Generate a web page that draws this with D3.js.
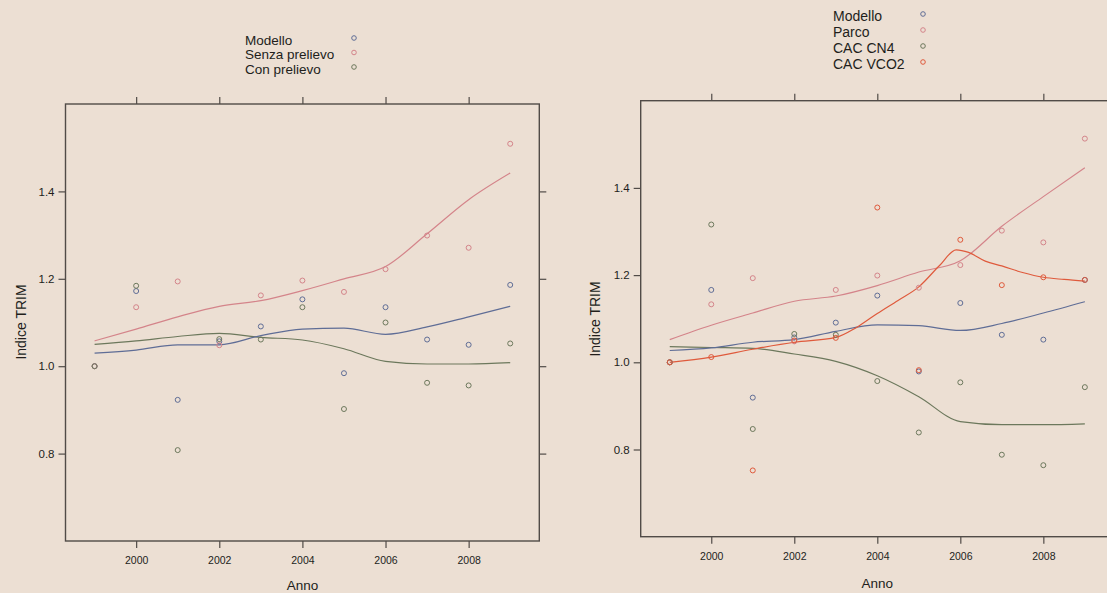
<!DOCTYPE html>
<html>
<head>
<meta charset="utf-8">
<script src="https://cdn.jsdelivr.net/npm/d3@7"></script>
<style>
  html, body { margin: 0; padding: 0; background: #ecdfd3; }
  svg { display: block; }
  text { font-family: "Liberation Sans", Arial, sans-serif; fill: #221e1b; }
</style>
</head>
<body>
<svg id="chart" width="1107" height="593"></svg>
<script>
// ---------------- DATA ----------------
const years = [1999, 2000, 2001, 2002, 2003, 2004, 2005, 2006, 2007, 2008, 2009];
const xTickValues = [2000, 2002, 2004, 2006, 2008];
const yTickValues = [0.8, 1.0, 1.2, 1.4];

// Left panel: observed indices
const modelloL      = [1.000, 1.172, 0.923, 1.057, 1.091, 1.153, 0.984, 1.135, 1.061, 1.049, 1.186];
const senzaPrelievo = [1.000, 1.135, 1.194, 1.048, 1.162, 1.196, 1.170, 1.222, 1.299, 1.271, 1.509];
const conPrelievo   = [1.000, 1.184, 0.808, 1.062, 1.061, 1.135, 0.902, 1.100, 0.962, 0.956, 1.052];
// Left panel: smooth curves (read at each year)
const modelloLSmooth = [1.030, 1.037, 1.049, 1.049, 1.070, 1.085, 1.087, 1.073, 1.090, 1.113, 1.137];
const senzaSmooth    = [1.058, 1.085, 1.113, 1.137, 1.150, 1.173, 1.200, 1.228, 1.303, 1.381, 1.442];
const conSmooth      = [1.050, 1.058, 1.068, 1.075, 1.066, 1.060, 1.040, 1.011, 1.005, 1.005, 1.008];

// Right panel: observed indices
const modelloR = [1.000, 1.166, 0.919, 1.057, 1.091, 1.153, 0.979, 1.136, 1.063, 1.052, 1.189];
const parco    = [1.000, 1.133, 1.193, 1.048, 1.166, 1.199, 1.171, 1.223, 1.302, 1.275, 1.513];
const cacCN4   = [1.000, 1.316, 0.847, 1.065, 1.063, 0.957, 0.839, 0.954, 0.788, 0.764, 0.943];
const cacVCO2  = [1.000, 1.012, 0.752, 1.050, 1.056, 1.355, 0.982, 1.281, 1.177, 1.195, 1.189];
// Right panel: smooth curves
const modelloRSmooth = [1.027, 1.033, 1.046, 1.052, 1.071, 1.086, 1.084, 1.073, 1.089, 1.113, 1.139];
const parcoSmooth    = [1.052, 1.085, 1.113, 1.140, 1.152, 1.176, 1.207, 1.233, 1.312, 1.380, 1.446];
const cn4Smooth      = [1.036, 1.034, 1.032, 1.019, 1.002, 0.969, 0.921, 0.864, 0.857, 0.857, 0.859];
const vco2SmoothYears = [1999, 2000, 2001, 2002, 2003, 2003.5, 2004, 2004.5, 2005, 2005.5, 2005.9, 2006.2, 2006.6, 2007, 2007.5, 2008, 2008.5, 2009];
const vco2Smooth      = [1.000, 1.012, 1.030, 1.046, 1.057, 1.080, 1.112, 1.142, 1.173, 1.222, 1.258, 1.252, 1.232, 1.221, 1.206, 1.195, 1.190, 1.186];

const legendLeft  = ["Modello", "Senza prelievo", "Con prelievo"];
const legendRight = ["Modello", "Parco", "CAC CN4", "CAC VCO2"];

// ---------------- STYLE ----------------
const C = {
  blue:  "#5f6d96",
  pink:  "#d4848a",
  green: "#6c785c",
  red:   "#df5a3c",
  frame: "#514b47"
};

const svg = d3.select("#chart");
svg.append("rect").attr("width", 1107).attr("height", 593).attr("fill", "#ecdfd3");

function drawPanel(cfg) {
  const x = d3.scaleLinear().domain([1998.3, 2009.7]).range([cfg.x0, cfg.x1]);
  const y = d3.scaleLinear().domain([0.6, 1.6]).range([cfg.y1, cfg.y0]);
  const g = svg.append("g");

  const tickLen = 7;
  const styleAxis = sel => {
    sel.select(".domain").remove();
    sel.selectAll(".tick line").attr("stroke", C.frame).attr("stroke-width", 1.2);
    sel.selectAll(".tick text").attr("fill", "#221e1b")
      .style("font-family", '"Liberation Sans", Arial, sans-serif');
  };
  g.append("g").attr("transform", `translate(0,${cfg.y1})`)
    .call(d3.axisBottom(x).tickValues(xTickValues).tickFormat(d3.format("d")).tickSize(tickLen).tickPadding(9))
    .call(styleAxis).selectAll("text").style("font-size", "10.5px");
  g.append("g").attr("transform", `translate(0,${cfg.y0})`)
    .call(d3.axisTop(x).tickValues(xTickValues).tickFormat("").tickSize(tickLen))
    .call(styleAxis);
  g.append("g").attr("transform", `translate(${cfg.x0},0)`)
    .call(d3.axisLeft(y).tickValues(yTickValues).tickFormat(d3.format(".1f")).tickSize(tickLen).tickPadding(4))
    .call(styleAxis).selectAll("text").style("font-size", "11.5px");
  g.append("g").attr("transform", `translate(${cfg.x1},0)`)
    .call(d3.axisRight(y).tickValues(yTickValues).tickFormat("").tickSize(tickLen))
    .call(styleAxis);

  g.append("rect")
    .attr("x", cfg.x0).attr("y", cfg.y0)
    .attr("width", cfg.x1 - cfg.x0).attr("height", cfg.y1 - cfg.y0)
    .attr("fill", "none").attr("stroke", C.frame).attr("stroke-width", 1.4);

  const line = d3.line().x(d => x(d[0])).y(d => y(d[1])).curve(d3.curveMonotoneX);
  cfg.smooths.forEach(s => {
    g.append("path")
      .datum(s.xs.map((v, i) => [v, s.ys[i]]))
      .attr("d", line)
      .attr("fill", "none")
      .attr("stroke", s.color)
      .attr("stroke-width", 1.2);
  });

  cfg.series.forEach(s => {
    g.append("g").selectAll("circle")
      .data(years.map((yr, i) => [yr, s.values[i]]))
      .join("circle")
      .attr("cx", d => x(d[0]))
      .attr("cy", d => y(d[1]))
      .attr("r", 2.5)
      .attr("fill", "none")
      .attr("stroke", s.color)
      .attr("stroke-width", 1);
  });

  g.append("text")
    .attr("x", (cfg.x0 + cfg.x1) / 2).attr("y", cfg.annoY)
    .attr("text-anchor", "middle").attr("dy", "0.35em")
    .style("font-size", "13.5px").text("Anno");
  g.append("text")
    .attr("transform", `translate(${cfg.ylabX},${cfg.ylabY}) rotate(-90)`)
    .attr("text-anchor", "middle").attr("dy", "0.35em")
    .style("font-size", "14px").text("Indice TRIM");

  const lg = g.append("g");
  cfg.legend.labels.forEach((lab, i) => {
    const cy = cfg.legend.y + i * cfg.legend.dy;
    lg.append("text").attr("x", cfg.legend.x).attr("y", cy).attr("dy", "0.35em")
      .style("font-size", cfg.legend.fs + "px").text(lab);
    lg.append("circle").attr("cx", cfg.legend.sx).attr("cy", cy - 2)
      .attr("r", 2.3).attr("fill", "none")
      .attr("stroke", cfg.legend.colors[i]).attr("stroke-width", 1);
  });
}

drawPanel({
  x0: 65.5, x1: 539.3, y0: 104, y1: 541,
  annoY: 585, ylabX: 21, ylabY: 322,
  series: [
    { values: modelloL, color: C.blue },
    { values: senzaPrelievo, color: C.pink },
    { values: conPrelievo, color: C.green }
  ],
  smooths: [
    { xs: years, ys: senzaSmooth, color: C.pink },
    { xs: years, ys: conSmooth, color: C.green },
    { xs: years, ys: modelloLSmooth, color: C.blue }
  ],
  legend: { labels: legendLeft, colors: [C.blue, C.pink, C.green],
            x: 245, y: 40, dy: 14.5, sx: 354, fs: 13.5 }
});

drawPanel({
  x0: 640.7, x1: 1113.9, y0: 100.7, y1: 536.7,
  annoY: 583, ylabX: 595, ylabY: 319,
  series: [
    { values: modelloR, color: C.blue },
    { values: parco, color: C.pink },
    { values: cacCN4, color: C.green },
    { values: cacVCO2, color: C.red }
  ],
  smooths: [
    { xs: years, ys: parcoSmooth, color: C.pink },
    { xs: years, ys: cn4Smooth, color: C.green },
    { xs: years, ys: modelloRSmooth, color: C.blue },
    { xs: vco2SmoothYears, ys: vco2Smooth, color: C.red }
  ],
  legend: { labels: legendRight, colors: [C.blue, C.pink, C.green, C.red],
            x: 833, y: 16, dy: 16, sx: 923, fs: 14 }
});
</script>
</body>
</html>
